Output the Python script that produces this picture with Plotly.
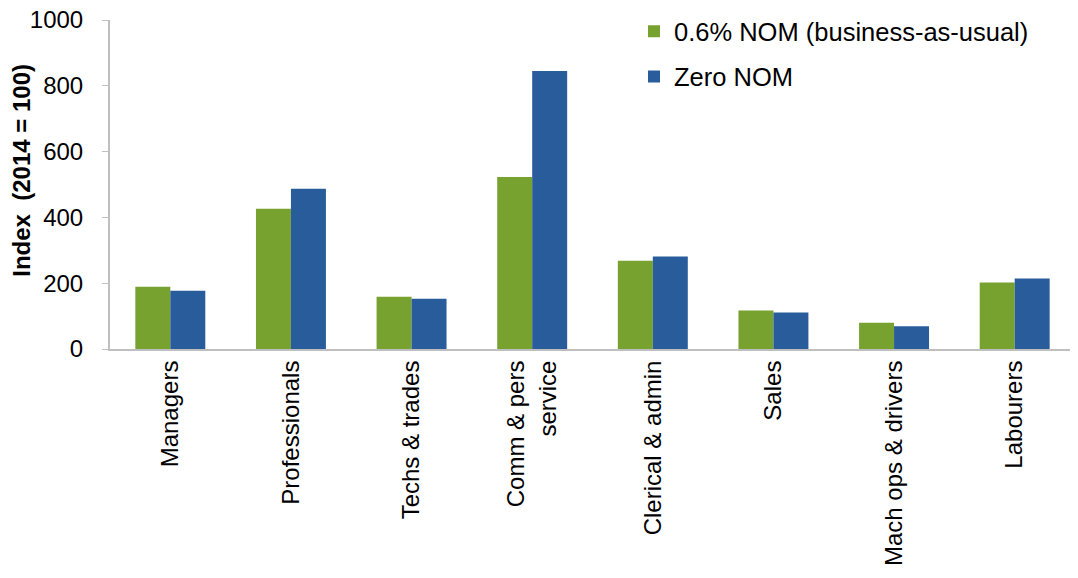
import plotly.graph_objects as go

# occupations (x categories)
categories = ['Managers', 'Professionals', 'Techs & trades', 'Comm & pers<br>service',
              'Clerical & admin', 'Sales', 'Mach ops & drivers', 'Labourers']

# index values, 2014 = 100
bau_values = [189, 426, 159, 523, 268, 117, 80, 202]
zero_values = [177, 487, 153, 845, 281, 111, 69, 214]

series_names = ['0.6% NOM (business-as-usual)', 'Zero NOM']

GREEN = '#78a22f'
BLUE = '#285c9b'
AXIS_GREY = '#bfbfbf'
FONT = 'Liberation Sans, Arial, sans-serif'

fig = go.Figure()
fig.add_trace(go.Bar(x=categories, y=bau_values, name=series_names[0],
                     marker=dict(color=GREEN, line=dict(width=0)),
                     legendgroup='a'))
fig.add_trace(go.Bar(x=categories, y=zero_values, name=series_names[1],
                     marker=dict(color=BLUE, line=dict(width=0)),
                     legendgroup='b'))

# page body adds 8px, so the figure is a bit smaller than the window
fig.update_layout(
    width=1070, height=570,
    margin=dict(l=102, r=3, t=12, b=229, autoexpand=False),
    paper_bgcolor='white', plot_bgcolor='white',
    font=dict(family=FONT, size=24, color='black'),
    barmode='group', bargap=0.42, bargroupgap=0,
    legend=dict(x=0.543, y=1.036, xanchor='left', yanchor='top',
                font=dict(size=25.5), tracegroupgap=9,
                itemwidth=30, bgcolor='rgba(0,0,0,0)'),
    xaxis=dict(showline=True, linecolor=AXIS_GREY, linewidth=2,
               tickangle=-90, ticks='', tickfont=dict(size=24),
               showgrid=False, automargin=False),
    yaxis=dict(range=[0, 1000], dtick=200, showline=True, linecolor=AXIS_GREY,
               linewidth=2, ticks='outside', tickcolor=AXIS_GREY, ticklen=6,
               ticklabelstandoff=14, ticklabeloverflow='allow',
               showgrid=False, zeroline=False, tickfont=dict(size=24),
               automargin=False),
)

# y-axis title placed by hand
fig.add_annotation(text='<b>Index  (2014 = 100)</b>', textangle=-90,
                   xref='paper', yref='paper', x=-0.0925, y=0.544,
                   xanchor='center', yanchor='middle', showarrow=False,
                   font=dict(size=24))

fig.write_html("out.html")
